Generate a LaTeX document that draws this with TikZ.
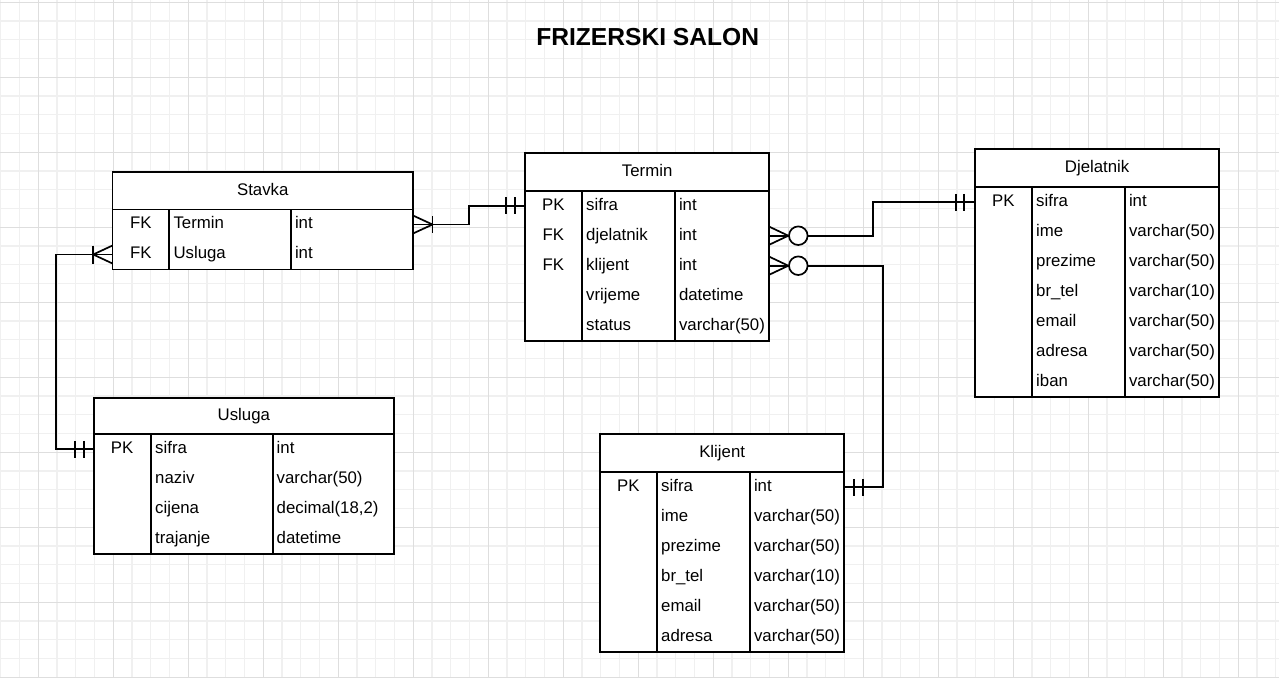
\documentclass[tikz,border=0pt]{standalone}
\usepackage{fontspec}
\setmainfont{Liberation Sans}
\tikzset{
 tabhead/.style={draw, line width=1.7pt, fill=white, inner sep=0pt, outer sep=0pt, text height=12pt, text depth=3.2pt},
 tabbody/.style={draw, line width=1.7pt, fill=white, inner sep=0pt, outer sep=0pt},
 tabline/.style={line width=1.7pt},
 rowbox/.style={inner sep=0pt, outer sep=0pt, minimum height=30pt},
 cell/.style={inner sep=0pt, outer sep=0pt, text height=12pt, text depth=3.2pt},
 conn/.style={line width=1.7pt},
 crow/.style={line width=1.7pt},
 minorgrid/.style={draw=black!6, line width=1.3pt},
 majorgrid/.style={draw=black!13, line width=1pt},
}
% #1 name, #2 title, #3 left, #4 top, #5 right, #6 header bottom, #7 rows, #8 div1, #9 div2
\newcommand{\ertab}[9]{%
  \pgfmathsetmacro{\erB}{#6+30*#7}%
  \pgfmathsetmacro{\erW}{#5-#3}%
  \pgfmathsetmacro{\erH}{#6-#4}%
  \pgfmathsetmacro{\erBH}{30*#7}%
  \node[tabhead, minimum width=\erW pt, minimum height=\erH pt, anchor=north west] (#1) at (#3,#4) {#2};
  \node[tabbody, minimum width=\erW pt, minimum height=\erBH pt, anchor=north west] (#1-body) at (#3,#6) {};
  \draw[tabline] (#8,#6) -- (#8,\erB);
  \draw[tabline] (#9,#6) -- (#9,\erB);
  \xdef\erL{#3}\xdef\erDa{#8}\xdef\erDb{#9}\xdef\erHB{#6}\xdef\erWd{\erW}%
}
% #1 table name, #2 index, #3 key, #4 field, #5 type
\newcommand{\errow}[5]{%
  \pgfmathsetmacro{\erY}{\erHB+30*#2-15}%
  \node[rowbox, minimum width=\erWd pt, anchor=west] (#1-#2) at (\erL,\erY) {};
  \node[cell] (#1-#2k) at ({(\erL+\erDa)/2},\erY) {#3};
  \node[cell, anchor=west] (#1-#2n) at (\erDa+4.5,\erY) {#4};
  \node[cell, anchor=west] (#1-#2t) at (\erDb+4,\erY) {#5};
}
\begin{document}
\begin{tikzpicture}[x=1pt,y=-1pt, font=\fontsize{16.8}{19}\selectfont]
\useasboundingbox (0,0) rectangle (1279,678);
\fill[white] (0,0) rectangle (1279,678);
\foreach \i in {0,...,68} \draw[minorgrid] ({0.8+18.75*\i},0) -- ({0.8+18.75*\i},678);
\foreach \j in {0,...,36} \draw[minorgrid] (0,{2.3+18.75*\j}) -- (1279,{2.3+18.75*\j});
\foreach \i in {0,...,16} \draw[majorgrid] ({38.3+75*\i},0) -- ({38.3+75*\i},678);
\foreach \j in {0,...,9} \draw[majorgrid] (0,{2.3+75*\j}) -- (1279,{2.3+75*\j});

\node[font=\bfseries\fontsize{24.6}{28}\selectfont, anchor=base, inner sep=0pt] (title) at (647.7,45.7) {FRIZERSKI SALON};

% tables
\ertab{stavka}{Stavka}{112.5}{172.3}{413}{209.5}{2}{169}{291}
\errow{stavka}{1}{FK}{Termin}{int}
\errow{stavka}{2}{FK}{Usluga}{int}

\ertab{termin}{Termin}{525}{153}{769.3}{190.7}{5}{581.7}{675}
\errow{termin}{1}{PK}{sifra}{int}
\errow{termin}{2}{FK}{djelatnik}{int}
\errow{termin}{3}{FK}{klijent}{int}
\errow{termin}{4}{}{vrijeme}{datetime}
\errow{termin}{5}{}{status}{varchar(50)}

\ertab{djel}{Djelatnik}{975}{149}{1219.3}{187.3}{7}{1031.7}{1125}
\errow{djel}{1}{PK}{sifra}{int}
\errow{djel}{2}{}{ime}{varchar(50)}
\errow{djel}{3}{}{prezime}{varchar(50)}
\errow{djel}{4}{}{br\_tel}{varchar(10)}
\errow{djel}{5}{}{email}{varchar(50)}
\errow{djel}{6}{}{adresa}{varchar(50)}
\errow{djel}{7}{}{iban}{varchar(50)}

\ertab{klijent}{Klijent}{600}{434}{844.3}{472.3}{6}{656.7}{750}
\errow{klijent}{1}{PK}{sifra}{int}
\errow{klijent}{2}{}{ime}{varchar(50)}
\errow{klijent}{3}{}{prezime}{varchar(50)}
\errow{klijent}{4}{}{br\_tel}{varchar(10)}
\errow{klijent}{5}{}{email}{varchar(50)}
\errow{klijent}{6}{}{adresa}{varchar(50)}

\ertab{usluga}{Usluga}{93.7}{397.8}{394}{434.3}{4}{150.7}{272.7}
\errow{usluga}{1}{PK}{sifra}{int}
\errow{usluga}{2}{}{naziv}{varchar(50)}
\errow{usluga}{3}{}{cijena}{decimal(18,2)}
\errow{usluga}{4}{}{trajanje}{datetime}

% Stavka.Termin -> Termin.sifra
\draw[conn] (stavka-1.east) -- ++(56,0) |- (termin-1.west);
\draw[crow] (stavka-1.east) ++(0,-9) -- ++(19.5,9) -- ++(-19.5,9);
\draw[crow] (stavka-1.east) ++(19.5,-8.5) -- ++(0,17);
\draw[crow] (termin-1.west) ++(-19,-8.5) -- ++(0,17);
\draw[crow] (termin-1.west) ++(-10,-8.5) -- ++(0,17);

% Termin.djelatnik -> Djelatnik.sifra
\draw[conn] (termin-2.east) -- ++(103.4,0) |- (djel-1.west);
\draw[crow] (termin-2.east) ++(0,-9) -- ++(19,9) -- ++(-19,9);
\draw[crow, fill=white] (termin-2.east) ++(29,0) circle[radius=9.3pt];
\draw[crow] (djel-1.west) ++(-19,-8.5) -- ++(0,17);
\draw[crow] (djel-1.west) ++(-11,-8.5) -- ++(0,17);

% Termin.klijent -> Klijent.sifra
\draw[conn] (termin-3.east) -- ++(113.4,0) |- (klijent-1.east);
\draw[crow] (termin-3.east) ++(0,-9) -- ++(19,9) -- ++(-19,9);
\draw[crow, fill=white] (termin-3.east) ++(29,0) circle[radius=9.3pt];
\draw[crow] (klijent-1.east) ++(10,-8.5) -- ++(0,17);
\draw[crow] (klijent-1.east) ++(19,-8.5) -- ++(0,17);

% Stavka.Usluga -> Usluga.sifra
\draw[conn] (stavka-2.west) -- ++(-56.8,0) |- (usluga-1.west);
\draw[crow] (stavka-2.west) ++(0,-9) -- ++(-19.3,9) -- ++(19.3,9);
\draw[crow] (stavka-2.west) ++(-19.3,-9) -- ++(0,18);
\draw[crow] (usluga-1.west) ++(-19,-8.5) -- ++(0,17);
\draw[crow] (usluga-1.west) ++(-10,-8.5) -- ++(0,17);
\end{tikzpicture}
\end{document}
